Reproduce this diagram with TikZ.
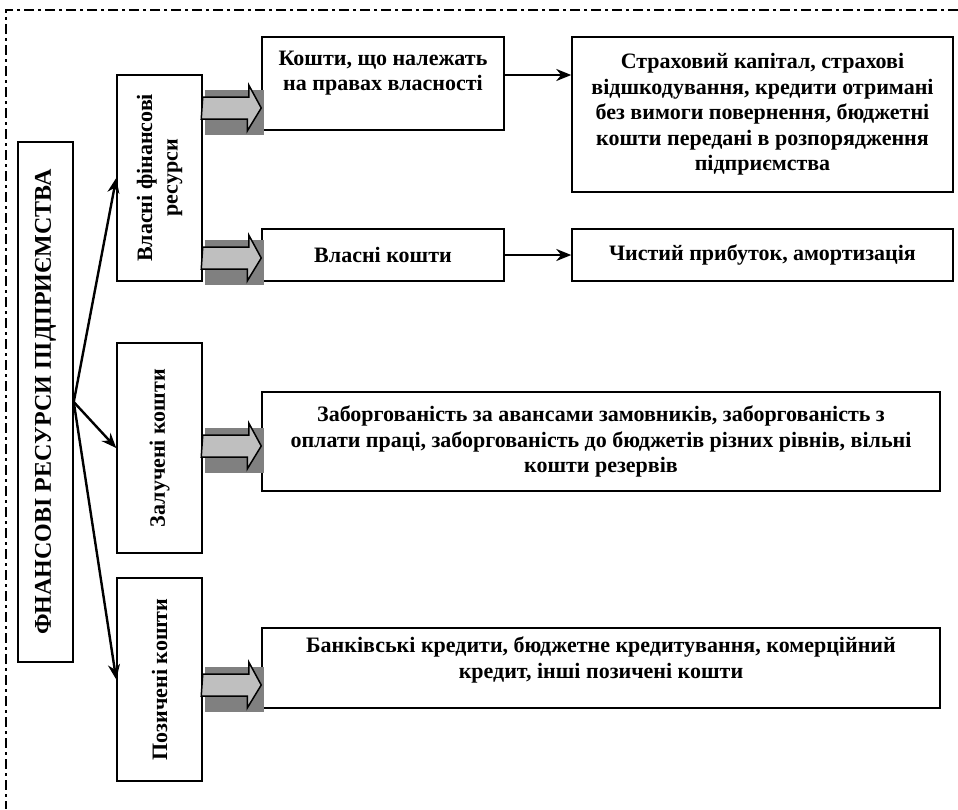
\documentclass[tikz,border=0pt]{standalone}
\usepackage{fontspec}
\setmainfont{Liberation Serif}
\usetikzlibrary{arrows.meta,calc}
\newcommand*{\xMax}{958}
\newcommand*{\yMax}{809}

\begin{document}
\begin{tikzpicture}[x=1pt,y=-1pt,
    every node/.style={font=\bfseries\fontsize{22}{25.5}\selectfont},
    frame/.style={draw,line width=1.5pt,align=center,inner sep=2pt},
    vbox/.style={frame,rotate=90,minimum height=85pt},
    thinarrow/.style={line width=2.4pt,-{Stealth[length=15pt,width=12pt]}},
    fatarrow/.style={draw,line width=1.5pt,fill=gray!50},
    shade/.style={fill=gray}]
\useasboundingbox (0,0) rectangle (\xMax,\yMax);

% frame, only top and left
\draw [line width=2.8pt,dash pattern=on 10pt off 4pt on 3pt off 4pt]
    (\xMax,10) -- (6,10) -- (6,\yMax);

% main box
\node [frame,rotate=90,minimum width=520pt,minimum height=55pt,
       font=\bfseries\fontsize{24}{28}\selectfont] (fin) at (45.5,402)
    {ФНАНСОВІ РЕСУРСИ ПІДПРИЄМСТВА};

% groups
\node [vbox,minimum width=206pt] (vl) at (159.5,178) {Власні фінансові\\ресурси};
\node [vbox,minimum width=210pt] (zl) at (159.5,448) {Залучені кошти};
\node [vbox,minimum width=203pt] (pz) at (159.5,679.5) {Позичені кошти};

% right side boxes
\node [frame,minimum width=242pt,minimum height=93pt] (k1) at (383,83.5)
    {Кошти, що належать\\на правах власності\\~};
\node [frame,minimum width=242pt,minimum height=52pt] (k2) at (383,255) {Власні кошти};
\node [frame,minimum width=381pt,minimum height=155pt] (sk) at (762.5,114.5)
    {Страховий капітал, страхові\\відшкодування, кредити отримані\\без вимоги повернення, бюджетні\\кошти передані в розпорядження\\підприємства};
\node [frame,minimum width=381pt,minimum height=52pt] (ch) at (762.5,255)
    {Чистий прибуток, амортизація};
\node [frame,minimum width=678pt,minimum height=99pt] (zb) at (601,441.5)
    {Заборгованість за авансами замовників, заборгованість з\\оплати праці, заборгованість до бюджетів різних рівнів, вільні\\кошти резервів};
\node [frame,minimum width=678pt,minimum height=80pt] (bk) at (601,668)
    {Банківські кредити, бюджетне кредитування, комерційний\\кредит, інші позичені кошти\\[-5pt]\mbox{}};

% from the main box
\foreach \t in {vl,zl,pz}
    \draw [thinarrow] (fin.south) -- (\t.north);

% fat arrows with dark shade
\foreach \s/\t/\yy in {vl/k1/108, vl/k2/258, zl/zb/446, pz/bk/685} {
    \fill [shade] ($(\s.south |- 0,\yy)+(2,-18)$) rectangle ($(\t.west |- 0,\yy)+(3,27)$);
    \draw [fatarrow] (\s.south |- 0,\yy) ++(0,-11) -- ++(46,0) -- ++(0,-12)
        -- (\t.west |- 0,\yy) -- ++(-14,23) -- ++(0,-12) -- ++(-46,0) -- cycle;
}

\coordinate (a1) at (0,75);
\draw [thinarrow] (k1.east |- a1) -- (sk.west |- a1);
\draw [thinarrow] (k2.east) -- (ch.west);

\end{tikzpicture}
\end{document}
